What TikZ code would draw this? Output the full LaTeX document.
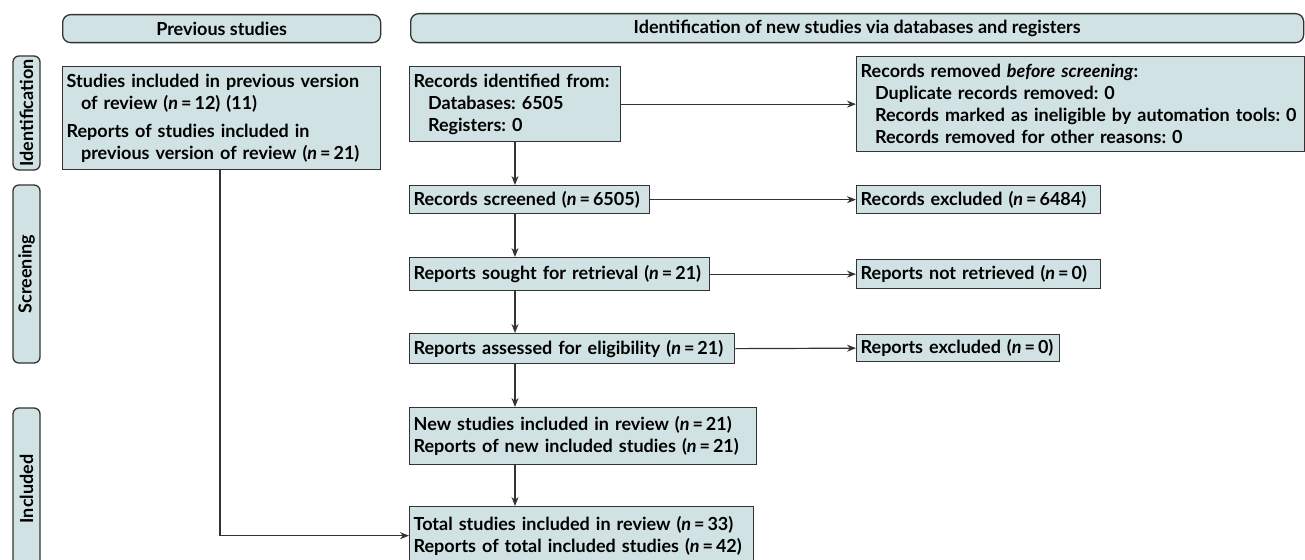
\documentclass[tikz,border=0pt]{standalone}
\usepackage{fontspec}
\setmainfont{Lato}
\usetikzlibrary{arrows.meta}
\definecolor{boxfill}{RGB}{208,226,228}
\definecolor{edge}{RGB}{51,51,51}
\frenchspacing
\begin{document}
\begin{tikzpicture}[x=1pt,y=-1pt,
 box/.style={draw=edge, line width=1.3pt, fill=boxfill, anchor=north west, inner xsep=4pt, inner ysep=0pt, align=left, font=\bfseries\fontsize{18}{22}\selectfont},
 hdr/.style={draw=edge, line width=1.3pt, fill=boxfill, rounded corners=8pt, anchor=north west, inner sep=0pt, font=\bfseries\fontsize{18}{20}\selectfont},
 side/.style={draw=edge, line width=1.3pt, fill=boxfill, rounded corners=6pt, rotate=90, inner sep=0pt, minimum height=27pt, font=\bfseries\fontsize{18}{20}\selectfont},
 arr/.style={draw=edge, line width=1.2pt, -{Stealth[length=9pt,width=7pt]}}]
\useasboundingbox (0,0) rectangle (1305,559);
\clip (0,0) rectangle (1305,559);
% headers
\node[hdr, minimum width=318pt, minimum height=28pt] (hp) at (62,14) {Previous studies};
\node[hdr, minimum width=893pt, minimum height=29pt] (hn) at (410,13) {Identification of new studies via databases and registers};
% side labels
\node[side, minimum width=114pt] (sid) at (26.5,113) {Identification};
\node[side, minimum width=178pt] (ssc) at (26.5,274) {Screening};
\node[side, minimum width=162pt] (sin) at (26.5,489) {Included};
% boxes
\node[box, minimum width=318pt, minimum height=103pt, text width=310pt] (prev) at (62,66) {Studies included in previous version\\\hspace*{0.8em}of review (\textit{n}\,=\,12) (11)\\[6pt]Reports of studies included in\\\hspace*{0.8em}previous version of review (\textit{n}\,=\,21)};
\node[box, minimum width=211pt, minimum height=75pt, text width=203pt] (rid) at (409,66) {Records identified from:\\\hspace*{0.8em}Databases: 6505\\\hspace*{0.8em}Registers: 0};
\node[box, minimum width=448pt, minimum height=95pt, text width=440pt] (rem) at (856,56) {Records removed \textit{before screening}:\\\hspace*{0.8em}Duplicate records removed: 0\\\hspace*{0.8em}Records marked as ineligible by automation tools: 0\\\hspace*{0.8em}Records removed for other reasons: 0};
\node[box, minimum width=240pt, minimum height=28pt, text width=232pt] (scr) at (409,185) {Records screened (\textit{n}\,=\,6505)};
\node[box, minimum width=244pt, minimum height=28pt, text width=236pt] (rex) at (856,185) {Records excluded (\textit{n}\,=\,6484)};
\node[box, minimum width=300pt, minimum height=33pt, text width=292pt] (sou) at (409,257) {Reports sought for retrieval (\textit{n}\,=\,21)};
\node[box, minimum width=244pt, minimum height=29pt, text width=236pt] (nre) at (856,259) {Reports not retrieved (\textit{n}\,=\,0)};
\node[box, minimum width=325pt, minimum height=30pt, text width=317pt] (ass) at (409,333) {Reports assessed for eligibility (\textit{n}\,=\,21)};
\node[box, minimum width=203pt, minimum height=27pt, text width=195pt] (rpx) at (856,334) {Reports excluded (\textit{n}\,=\,0)};
\node[box, minimum width=347pt, minimum height=57pt, text width=339pt] (new) at (409,407) {New studies included in review (\textit{n}\,=\,21)\\Reports of new included studies (\textit{n}\,=\,21)};
\node[box, minimum width=344pt, minimum height=58pt, text width=336pt] (tot) at (409,506) {Total studies included in review (\textit{n}\,=\,33)\\Reports of total included studies (\textit{n}\,=\,42)};
% connectors
\coordinate (ax) at (515,0);
\coordinate (px) at (220,0);
\draw[arr] (rid.east) -- (rem.west);
\draw[arr] (rid.south -| ax) -- (scr.north -| ax);
\draw[arr] (scr.east) -- (rex.west);
\draw[arr] (scr.south -| ax) -- (sou.north -| ax);
\draw[arr] (sou.east) -- (nre.west);
\draw[arr] (sou.south -| ax) -- (ass.north -| ax);
\draw[arr] (ass.east) -- (rpx.west);
\draw[arr] (ass.south -| ax) -- (new.north -| ax);
\draw[arr] (new.south -| ax) -- (tot.north -| ax);
\draw[arr] (prev.south -| px) |- (tot.west);
\end{tikzpicture}
\end{document}
